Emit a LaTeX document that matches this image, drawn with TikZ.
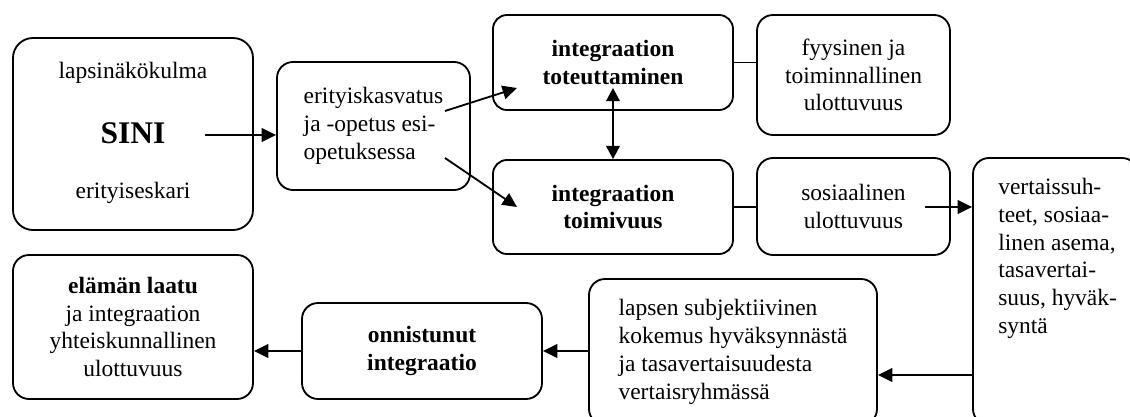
\documentclass[tikz,border=0pt]{standalone}
\usepackage{fontspec}
\setmainfont{Liberation Serif}
\usepackage{tikz}
\usetikzlibrary{positioning,calc,arrows.meta}

\begin{document}
\begin{tikzpicture}[
    font=\fontsize{16.7}{19.8}\selectfont,
    box/.style={draw, line width=1.3pt, rounded corners=0.4cm, align=center, inner sep=0pt},
    arr/.style={line width=1.3pt, -{Triangle[length=0.36cm,width=0.34cm]}},
    link/.style={line width=1.3pt}
]
    \useasboundingbox (0,0) rectangle (28.25,10.425);
    \clip (0,0) rectangle (28.25,10.425);

    % Starting point
    \node[box, rounded corners=0.5cm, minimum width=6cm, minimum height=4.8cm] (lapsi) at (3.325,7.075) {};
    \node (kulma) at (3.325,8.6) {lapsinäkökulma};
    \node[font=\fontsize{22.4}{26}\selectfont\bfseries] (sini) at (3.325,7.1) {SINI};
    \node (eskari) at (3.325,5.6) {erityiseskari};

    \node[box, align=left, minimum width=4.825cm, minimum height=3.2cm] (erityis) at (9.3375,7.275)
        {erityiskasvatus\\ja -opetus esi-\\opetuksessa};

    % Integration
    \node[box, rounded corners=0.35cm, font=\fontsize{16.7}{19.8}\selectfont\bfseries, minimum width=6cm, minimum height=2.375cm] (toteutus) at (15.325,8.8625)
        {integraation\\toteuttaminen};
    \node[box, rounded corners=0.35cm, font=\fontsize{16.7}{19.8}\selectfont\bfseries, minimum width=6cm, minimum height=2.35cm] (toimivuus) at (15.325,5.25)
        {integraation\\toimivuus};

    % Dimensions
    \node[box, minimum width=4.825cm, minimum height=3cm] (fyysinen) at (21.3375,8.55)
        {fyysinen ja\\toiminnallinen\\ulottuvuus};
    \node[box, minimum width=4.825cm, minimum height=2.425cm] (sosiaalinen) at (21.3375,5.2625)
        {sosiaalinen\\ulottuvuus};

    \node[box, minimum width=4.125cm, minimum height=6.675cm] (vertais) at (26.3875,3.1375) {};
    \node[align=left, anchor=north west, inner sep=0pt] (vertaisteksti) at (24.95,5.98)
        {vertaissuh-\\teet, sosiaa-\\linen asema,\\tasavertai-\\suus, hyväk-\\syntä};

    % Outcome
    \node[box, align=left, minimum width=7.2cm, minimum height=3.65cm] (kokemus) at (18.325,1.625)
        {lapsen subjektiivinen\\kokemus hyväksynnästä\\ja tasavertaisuudesta\\vertaisryhmässä};
    \node[box, font=\fontsize{16.7}{19.8}\selectfont\bfseries, minimum width=6cm, minimum height=2.4cm] (onnistunut) at (10.55,1.65)
        {onnistunut\\integraatio};
    \node[box, minimum width=6cm, minimum height=3.6cm] (laatu) at (3.325,2.25)
        {\textbf{elämän laatu}\\ja integraation\\yhteiskunnallinen\\ulottuvuus};

    % Connectors
    \coordinate (s1) at (5.125,7.05);
    \coordinate (s2) at (11.125,7.65);
    \coordinate (e2) at (12.925,8.225);
    \coordinate (s3) at (11.125,6.475);
    \coordinate (e3) at (12.925,5.25);
    \coordinate (t1) at (15.325,8.225);
    \coordinate (s4) at (23.125,5.25);
    \coordinate (s5) at (24.325,1.05);

    \draw[arr] (s1) -- (s1 -| erityis.west);
    \draw[arr] (s2) -- (e2);
    \draw[arr] (s3) -- (e3);
    \draw[arr, {Triangle[length=0.33cm,width=0.34cm]}-{Triangle[length=0.33cm,width=0.34cm]}] (t1) -- (toimivuus.north);
    \draw[link] (toteutus.east) -- (toteutus.east -| fyysinen.west);
    \draw[link] (toimivuus.east) -- (toimivuus.east -| sosiaalinen.west);
    \draw[arr] (s4) -- (s4 -| vertais.west);
    \draw[arr] (s5 -| vertais.west) -- (s5 -| kokemus.east);
    \draw[arr] (onnistunut.east -| kokemus.west) -- (onnistunut.east);
    \draw[arr] (onnistunut.west) -- (onnistunut.west -| laatu.east);
\end{tikzpicture}
\end{document}
